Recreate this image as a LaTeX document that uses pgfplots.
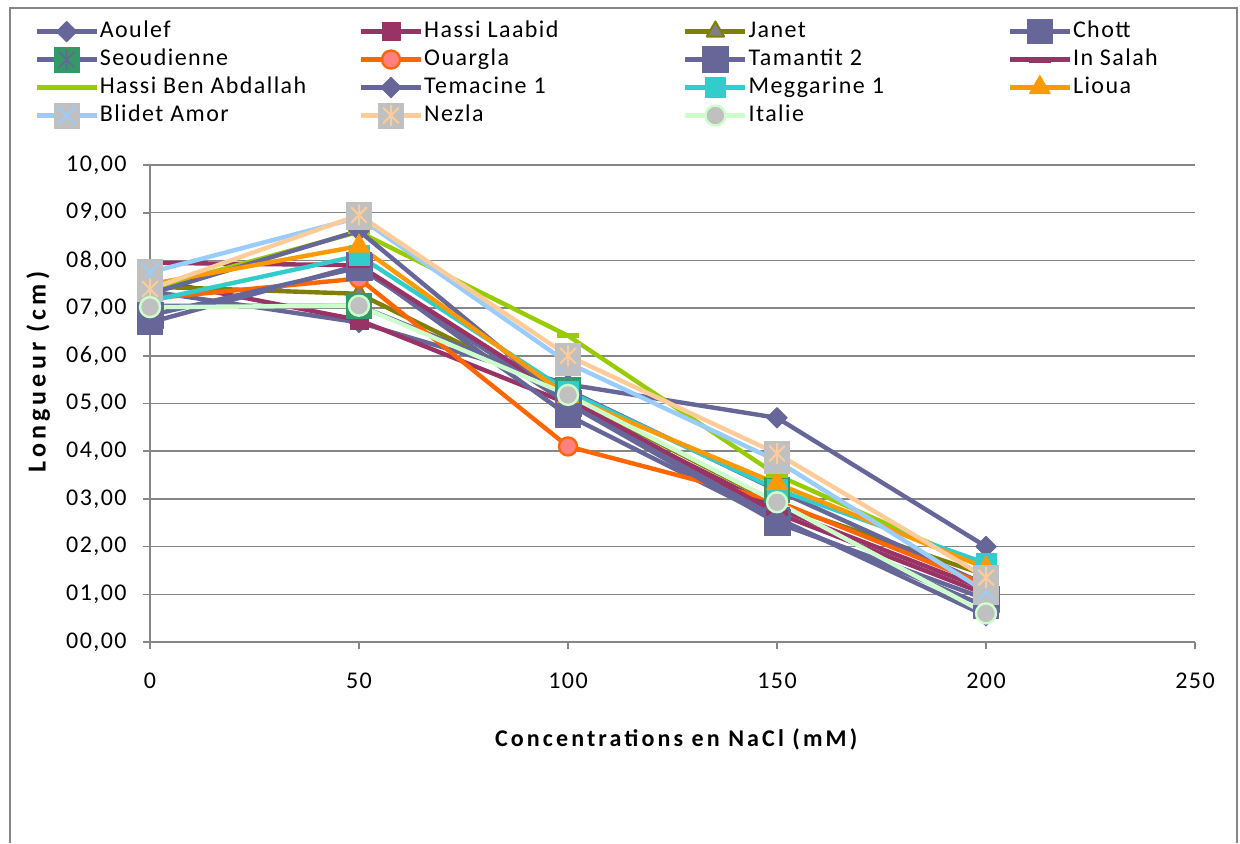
\documentclass[border=0pt,12pt]{standalone}
\usepackage{pgfplots}
\usepackage{pgfplotstable}
\pgfplotsset{compat=1.18}
\usepackage{fontspec}
\setmainfont{Carlito}[LetterSpace=6]
\definecolor{cPurple}{HTML}{666699}
\definecolor{cMaroon}{HTML}{993366}
\definecolor{cOlive}{HTML}{808000}
\definecolor{cGray}{HTML}{808080}
\definecolor{cGreen}{HTML}{339966}
\definecolor{cOrange}{HTML}{FF6600}
\definecolor{cPink}{HTML}{FF8080}
\definecolor{cLime}{HTML}{99CC00}
\definecolor{cTeal}{HTML}{33CCCC}
\definecolor{cGold}{HTML}{FF9900}
\definecolor{cSky}{HTML}{99CCFF}
\definecolor{cSilver}{HTML}{C0C0C0}
\definecolor{cPeach}{HTML}{FFCC99}
\definecolor{cMint}{HTML}{CCFFCC}
\definecolor{cAxis}{HTML}{868686}

\pgfdeclareplotmark{sqx}{%
  \pgfpathrectangle{\pgfqpoint{-\pgfplotmarksize}{-\pgfplotmarksize}}{\pgfqpoint{2\pgfplotmarksize}{2\pgfplotmarksize}}%
  \pgfusepathqfill
  \pgfpathmoveto{\pgfqpoint{-0.65\pgfplotmarksize}{-0.65\pgfplotmarksize}}%
  \pgfpathlineto{\pgfqpoint{0.65\pgfplotmarksize}{0.65\pgfplotmarksize}}%
  \pgfpathmoveto{\pgfqpoint{-0.65\pgfplotmarksize}{0.65\pgfplotmarksize}}%
  \pgfpathlineto{\pgfqpoint{0.65\pgfplotmarksize}{-0.65\pgfplotmarksize}}%
  \pgfusepathqstroke
}
\pgfdeclareplotmark{sqast}{%
  \pgfpathrectangle{\pgfqpoint{-\pgfplotmarksize}{-\pgfplotmarksize}}{\pgfqpoint{2\pgfplotmarksize}{2\pgfplotmarksize}}%
  \pgfusepathqfill
  \pgfpathmoveto{\pgfqpoint{-0.6\pgfplotmarksize}{-0.6\pgfplotmarksize}}%
  \pgfpathlineto{\pgfqpoint{0.6\pgfplotmarksize}{0.6\pgfplotmarksize}}%
  \pgfpathmoveto{\pgfqpoint{-0.6\pgfplotmarksize}{0.6\pgfplotmarksize}}%
  \pgfpathlineto{\pgfqpoint{0.6\pgfplotmarksize}{-0.6\pgfplotmarksize}}%
  \pgfpathmoveto{\pgfqpoint{0pt}{-0.8\pgfplotmarksize}}%
  \pgfpathlineto{\pgfqpoint{0pt}{0.8\pgfplotmarksize}}%
  \pgfusepathqstroke
}

\pgfplotsset{
  legend image code/.code={\draw[mark repeat=2,mark phase=2,#1] plot coordinates {(0pt,0pt) (15pt,0pt) (30pt,0pt)};}
}
\newcommand{\LE}[1]{\makebox[129pt][l]{#1}}

\pgfplotstableread{
x   aou  hla  jan  cho  seo  oua  tam  ins  hba  tem  meg  lio  bli  nez  ita
0   7.35 7.60 7.45 6.70 7.05 7.20 6.85 7.95 7.40 7.30 7.15 7.50 7.75 7.40 7.02
50  6.70 6.75 7.30 7.90 7.05 7.62 7.85 7.90 8.60 8.62 8.10 8.30 8.90 8.95 7.05
100 5.40 5.00 5.15 4.75 5.28 4.10 5.00 5.10 6.42 5.00 5.25 5.15 5.85 6.00 5.18
150 4.70 2.80 2.90 2.55 3.18 2.95 2.50 2.70 3.50 2.60 3.20 3.32 3.80 3.95 2.93
200 2.00 1.10 1.40 0.75 1.20 1.20 0.90 1.00 1.55 0.55 1.65 1.55 1.05 1.35 0.60
}\data

\begin{document}
\begin{tikzpicture}
\useasboundingbox (0,0) rectangle (620pt,421.5pt);
\begin{axis}[
  at={(75pt,100.5pt)}, anchor=south west,
  scale only axis, width=522.5pt, height=238.5pt,
  xmin=0, xmax=250, ymin=0, ymax=10,
  xtick={0,50,100,150,200,250}, xticklabels={0,50,100,150,200,250},
  ytick={0,1,2,3,4,5,6,7,8,9,10},
  yticklabels={{00,00},{01,00},{02,00},{03,00},{04,00},{05,00},{06,00},{07,00},{08,00},{09,00},{10,00}},
  axis x line*=bottom, axis y line*=left,
  axis line style={draw=cAxis, line width=0.8pt, -},
  tick style={draw=cAxis, line width=0.8pt},
  tick align=outside, major tick length=3.5pt,
  ymajorgrids, grid style={draw=cAxis, line width=0.75pt},
  xticklabel style={yshift=-8pt},
  yticklabel style={xshift=-4pt},
  xlabel={\addfontfeatures{LetterSpace=13}\textbf{Concentrations en NaCl (mM)}},
  ylabel={\fontsize{13}{15}\selectfont\addfontfeatures{LetterSpace=16}\textbf{Longueur (cm)}},
  xlabel style={at={(axis description cs:0.505,-0.205)}, anchor=center},
  ylabel style={at={(axis description cs:-0.107,0.57)}, anchor=center},
  clip=false,
  legend columns=4,
  legend cell align=left,
  legend style={at={(axis description cs:-0.111,1.310)}, anchor=north west, draw=none, fill=none, inner sep=0pt, row sep=0pt, column sep=0pt,
    nodes={inner xsep=0.5pt, inner ysep=0.75pt, text height=9pt, text depth=3.5pt}},
  every axis plot/.append style={line width=2.2pt, line join=round},
]
\addplot[cPurple, mark=square*, mark options={rotate=45, fill=cPurple, draw=cPurple, line width=0.5pt}, mark size=3.6pt] table[x=x,y=aou]{\data};
\addplot[cMaroon, mark=square*, mark options={fill=cMaroon, draw=cMaroon, line width=0.5pt}, mark size=4.5pt] table[x=x,y=hla]{\data};
\addplot[cOlive, mark=triangle*, mark options={fill=cGray, draw=cOlive, line width=1pt}, mark size=5pt] table[x=x,y=jan]{\data};
\addplot[cPurple, mark=square*, mark options={fill=cPurple, draw=cPurple, line width=0.5pt}, mark size=6.2pt] table[x=x,y=cho]{\data};
\addplot[cPurple, mark=sqast, mark options={fill=cGreen, draw=cPurple, line width=0.8pt}, mark size=6.5pt] table[x=x,y=seo]{\data};
\addplot[cOrange, mark=*, mark options={fill=cPink, draw=cOrange, line width=1.2pt}, mark size=4.5pt] table[x=x,y=oua]{\data};
\addplot[cPurple, mark=square*, mark options={fill=cPurple, draw=cPurple, line width=0.5pt}, mark size=6.5pt] table[x=x,y=tam]{\data};
\addplot[cMaroon, mark=-, mark options={draw=cMaroon, line width=3pt}, mark size=5.5pt] table[x=x,y=ins]{\data};
\addplot[cLime, mark=-, mark options={draw=cLime, line width=2.5pt}, mark size=5.5pt] table[x=x,y=hba]{\data};
\addplot[cPurple, mark=square*, mark options={rotate=45, fill=cPurple, draw=cPurple, line width=0.5pt}, mark size=3.6pt] table[x=x,y=tem]{\data};
\addplot[cTeal, mark=square*, mark options={fill=cTeal, draw=cTeal, line width=0.5pt}, mark size=5pt] table[x=x,y=meg]{\data};
\addplot[cGold, mark=triangle*, mark options={fill=cGold, draw=cGold, line width=0.5pt}, mark size=6pt] table[x=x,y=lio]{\data};
\addplot[cSky, mark=sqx, mark options={fill=cSilver, draw=cSky, line width=1pt}, mark size=6.5pt] table[x=x,y=bli]{\data};
\addplot[cPeach, mark=sqast, mark options={fill=cSilver, draw=cPeach, line width=1pt}, mark size=6.5pt] table[x=x,y=nez]{\data};
\addplot[cMint, mark=*, mark options={fill=cSilver, draw=cMint, line width=1.2pt}, mark size=5pt] table[x=x,y=ita]{\data};
\legend{\LE{Aoulef},\LE{Hassi Laabid},\LE{Janet},\LE{Chott},
        \LE{Seoudienne},\LE{Ouargla},\LE{Tamantit 2},\LE{In Salah},
        \LE{Hassi Ben Abdallah},\LE{Temacine 1},\LE{Meggarine 1},\LE{Lioua},
        \LE{Blidet Amor},\LE{Nezla},\LE{Italie}}
\end{axis}
\draw[cAxis, line width=1pt] (5pt,0pt) -- (5pt,417.5pt) -- (618.5pt,417.5pt) -- (618.5pt,0pt);
\end{tikzpicture}
\end{document}
